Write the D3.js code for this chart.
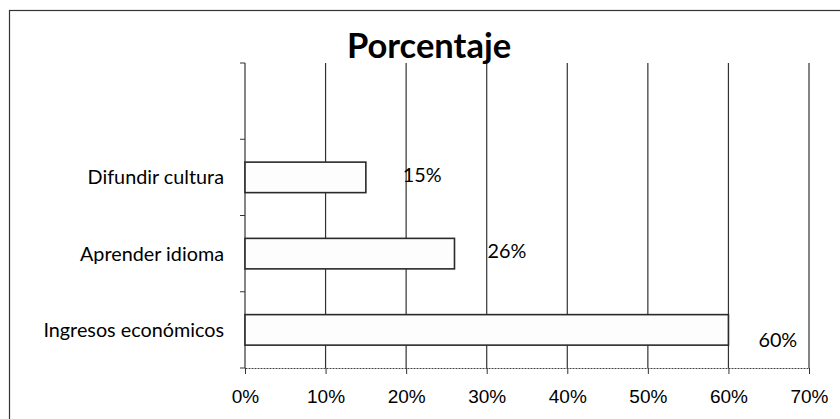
<!DOCTYPE html>
<html>
<head>
<meta charset="utf-8">
<script src="https://cdn.jsdelivr.net/npm/d3@7"></script>
<style>
  body { margin: 0; background: #fff; }
  svg { display: block; font-family: Lato, "Open Sans", sans-serif; }
</style>
</head>
<body>
<svg id="chart" width="840" height="419"></svg>
<script>
// categories from top to bottom (the first band is left empty in the original)
let categories = ["", "Difundir cultura", "Aprender idioma", "Ingresos económicos"]
let values = [null, 15, 26, 60]          // porcentaje
let xTicks = [0, 10, 20, 30, 40, 50, 60, 70]
let title = "Porcentaje"

// where each value label sits relative to the bar end (px)
let labelShift = [null, [37, -2], [33, -3], [30, 10]]

let width = 840, height = 419
let margin = {top: 63, right: 31, bottom: 51, left: 245}

let svg = d3.select("#chart")

// chart frame, only top and left edges show in the scan
svg.append("rect")
  .attr("x", 9.5).attr("y", 10.5)
  .attr("width", 900).attr("height", 500)
  .attr("fill", "none")
  .attr("stroke", "#333")
  .attr("stroke-width", 1.2)

let x = d3.scaleLinear()
  .domain([0, 70])
  .range([margin.left, width - margin.right])

let y = d3.scaleBand()
  .domain(categories)
  .range([margin.top, height - margin.bottom])
  .paddingInner(0.6)
  .paddingOuter(0.3)

// vertical gridlines
svg.append("g")
  .selectAll("line")
  .data(xTicks.slice(1))
  .enter().append("line")
    .attr("x1", d => x(d)).attr("x2", d => x(d))
    .attr("y1", margin.top).attr("y2", height - margin.bottom)
    .attr("stroke", "#333")
    .attr("stroke-width", 1.2)

// x axis
let xAxis = svg.append("g")
  .attr("transform", "translate(0," + (height - margin.bottom) + ")")
  .call(d3.axisBottom(x).tickValues(xTicks).tickSize(6).tickSizeOuter(0).tickFormat(d => d + "%"))
xAxis.select(".domain").attr("stroke", "#444").attr("stroke-dasharray", "2,1")
xAxis.selectAll(".tick line").attr("stroke", "#333")
xAxis.selectAll("text")
  .attr("y", 35).attr("dy", 0)
  .attr("fill", "#000")
  .style("font-size", "19px")

// y axis: line, ticks between categories, labels
let yAxis = svg.append("g")
yAxis.append("line")
  .attr("x1", x(0)).attr("x2", x(0))
  .attr("y1", margin.top).attr("y2", height - margin.bottom)
  .attr("stroke", "#333").attr("stroke-width", 1.2)
yAxis.selectAll(".ytick")
  .data(d3.range(categories.length + 1))
  .enter().append("line")
    .attr("class", "ytick")
    .attr("x1", x(0) - 5).attr("x2", x(0))
    .attr("y1", i => y.range()[0] + i * y.step())
    .attr("y2", i => y.range()[0] + i * y.step())
    .attr("stroke", "#333")
yAxis.selectAll("text")
  .data(categories)
  .enter().append("text")
    .attr("x", x(0) - 21)
    .attr("y", d => y(d) + y.bandwidth() / 2)
    .attr("dy", "0.35em")
    .attr("text-anchor", "end")
    .attr("fill", "#000")
    .style("font-size", "19.8px")
    .text(d => d)

// bars
let rows = categories.map((c, i) => ({cat: c, value: values[i], shift: labelShift[i]}))
  .filter(d => d.value != null)

svg.append("g")
  .selectAll("rect")
  .data(rows)
  .enter().append("rect")
    .attr("x", x(0))
    .attr("y", d => y(d.cat))
    .attr("width", d => x(d.value) - x(0))
    .attr("height", y.bandwidth())
    .attr("fill", "#fdfdfd")
    .attr("stroke", "#2a2a2a")
    .attr("stroke-width", 1.6)

// value labels
svg.append("g")
  .selectAll("text")
  .data(rows)
  .enter().append("text")
    .attr("x", d => x(d.value) + d.shift[0])
    .attr("y", d => y(d.cat) + y.bandwidth() / 2 + d.shift[1])
    .attr("dy", "0.35em")
    .attr("fill", "#000")
    .style("font-size", "19.8px")
    .text(d => d.value + "%")

// title
svg.append("text")
  .attr("x", 429)
  .attr("y", 58)
  .attr("text-anchor", "middle")
  .attr("fill", "#000")
  .style("font-size", "34.5px")
  .style("font-weight", "bold")
  .text(title)
</script>
</body>
</html>
